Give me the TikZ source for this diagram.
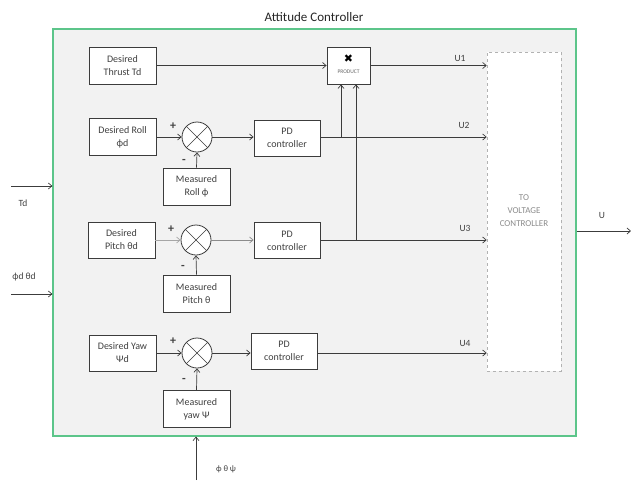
\documentclass[tikz,border=0pt]{standalone}
\usepackage{fontspec}
\setmainfont{Carlito}
\newfontfamily\symfont{DejaVu Sans}
\usetikzlibrary{arrows.meta}
\definecolor{framegreen}{HTML}{5CC58A}
\definecolor{framefill}{HTML}{F2F2F2}
\definecolor{inkc}{HTML}{3C3C3C}
\definecolor{txtc}{HTML}{404040}
\tikzset{
  blk/.style={draw=inkc, line width=0.9pt, fill=white, minimum width=67pt, minimum height=37pt,
    inner sep=1pt, align=center, font=\fontsize{10}{13}\selectfont, text=txtc},
  sumc/.style={draw=inkc, line width=0.8pt, fill=white, circle, minimum size=30pt, inner sep=0pt},
  conn/.style={draw=inkc, line width=0.7pt, -{Straight Barb[length=3.5pt,width=6pt]}},
  plain/.style={draw=inkc, line width=0.7pt},
  lbl/.style={text=txtc, font=\fontsize{9.5}{11}\selectfont, inner sep=0pt},
  sgn/.style={text=txtc, font=\fontsize{12}{12}\selectfont\bfseries, inner sep=0pt},
}
\begin{document}
\begin{tikzpicture}[x=1pt,y=-1pt]
\useasboundingbox (0,0) rectangle (631,480);
% frame
\node[draw=framegreen, line width=1.2pt, fill=framefill, minimum width=523pt, minimum height=407pt, inner sep=0pt] (frame) at (314.5,232.5) {};
\node[text=black!85, font=\fontsize{13}{15}\selectfont, inner sep=0pt] (title) at (314,17) {Attitude Controller};
% voltage controller box
\node[draw=black!30, dashed, line width=0.6pt, fill=white, minimum width=74pt, minimum height=319pt, inner sep=0pt] (volt) at (524,211.5) {};
\node[text=black!45, font=\fontsize{9}{13}\selectfont, align=center, inner sep=0pt] (volttxt) at (524,211) {TO\\VOLTAGE\\CONTROLLER};
% row 1
\node[blk] (thrust) at (122.5,65.5) {Desired\\Thrust Td};
\node[blk, minimum width=43pt] (prod) at (348.5,65.5) {};
\node[inner sep=0pt] (prodx) at (348.5,59) {\symfont\fontsize{11}{11}\selectfont ✖};
\node[text=black!60, font=\fontsize{5.5}{6}\selectfont, inner sep=0pt] (prodt) at (348.5,71.5) {PRODUCT};
% row 2 roll
\node[blk] (roll) at (122.5,137) {Desired Roll\\ϕd};
\node[sumc] (sumR) at (197,137) {};
\node[blk, minimum width=66pt, minimum height=36pt] (pdR) at (287,138) {PD\\controller};
\node[blk] (measR) at (196.5,186.5) {Measured\\Roll ϕ};
% row 3 pitch
\node[blk, minimum height=36pt] (pitch) at (121.5,240) {Desired\\Pitch θd};
\node[sumc] (sumP) at (196,240) {};
\node[blk, minimum width=66pt, minimum height=36pt] (pdP) at (287,240.5) {PD\\controller};
\node[blk] (measP) at (196.5,293.5) {Measured\\Pitch θ};
% row 4 yaw
\node[blk, minimum height=36pt] (yaw) at (122.5,353) {Desired Yaw\\Ψd};
\node[sumc] (sumY) at (197,353) {};
\node[blk, minimum width=66pt, minimum height=36pt] (pdY) at (284,351) {PD\\controller};
\node[blk] (measY) at (196.5,409) {Measured\\yaw Ψ};
% crosses in summers
\foreach \s in {sumR,sumP,sumY}{
  \draw[plain, line width=0.6pt] (\s.north west) -- (\s.south east);
  \draw[plain, line width=0.6pt] (\s.north east) -- (\s.south west);
}
% signs
\node[sgn] (pR) at (173,126) {+};
\node[sgn] (mR) at (184,161) {-};
\node[sgn] (pP) at (171,229) {+};
\node[sgn] (mP) at (183,267) {-};
\node[sgn] (pY) at (173,341) {+};
\node[sgn] (mY) at (184,380) {-};
% connectors row 1
\draw[conn] (thrust.east) -- (prod.west |- thrust.east);
\draw[conn] (prod.east) -- (volt.west |- prod.east);
\node[lbl] (u1) at (460,58) {U1};
% row 2
\draw[conn] (roll.east) -- (sumR.west);
\draw[conn] (sumR.east) -- (pdR.west |- sumR.east);
\draw[conn] (pdR.east |- sumR.east) -- (volt.west |- sumR.east);
\node[lbl] (u2) at (464,125) {U2};
\draw[conn] (measR.north) -- (sumR.south);
\coordinate (jR) at (341,137);
\draw[conn] (jR) -- (jR |- prod.south);
% row 3
\draw[conn, draw=black!35] (pitch.east) -- (sumP.west);
\draw[conn, draw=black!45] (sumP.east) -- (pdP.west |- sumP.east);
\draw[conn] (pdP.east |- sumP.east) -- (volt.west |- sumP.east);
\node[lbl] (u3) at (465,228) {U3};
\draw[conn] (measP.north) -- (sumP.south);
\coordinate (jP) at (356,240);
\draw[conn] (jP) -- (jP |- prod.south);
% row 4
\draw[conn] (yaw.east) -- (sumY.west);
\draw[conn] (sumY.east) -- (pdY.west |- sumY.east);
\draw[conn] (pdY.east |- sumY.east) -- (volt.west |- sumY.east);
\node[lbl] (u4) at (465,343) {U4};
\draw[conn] (measY.north) -- (sumY.south);
% external inputs / outputs
\coordinate (tdin) at (11,186);
\draw[conn] (tdin) -- (frame.west |- tdin);
\node[lbl] (tdl) at (23,203) {Td};
\coordinate (angin) at (11,294);
\draw[conn] (angin) -- (frame.west |- angin);
\node[lbl] (angl) at (24,277) {ϕd θd};
\coordinate (uout) at (631,231);
\draw[conn] (frame.east |- uout) -- (uout);
\node[lbl] (ul) at (602,215) {U};
\coordinate (measin) at (196,480);
\draw[conn] (measin) -- (measin |- frame.south);
\node[lbl, font=\fontsize{8.5}{10}\selectfont] (measl) at (226,469) {ϕ θ ψ};
\end{tikzpicture}
\end{document}
